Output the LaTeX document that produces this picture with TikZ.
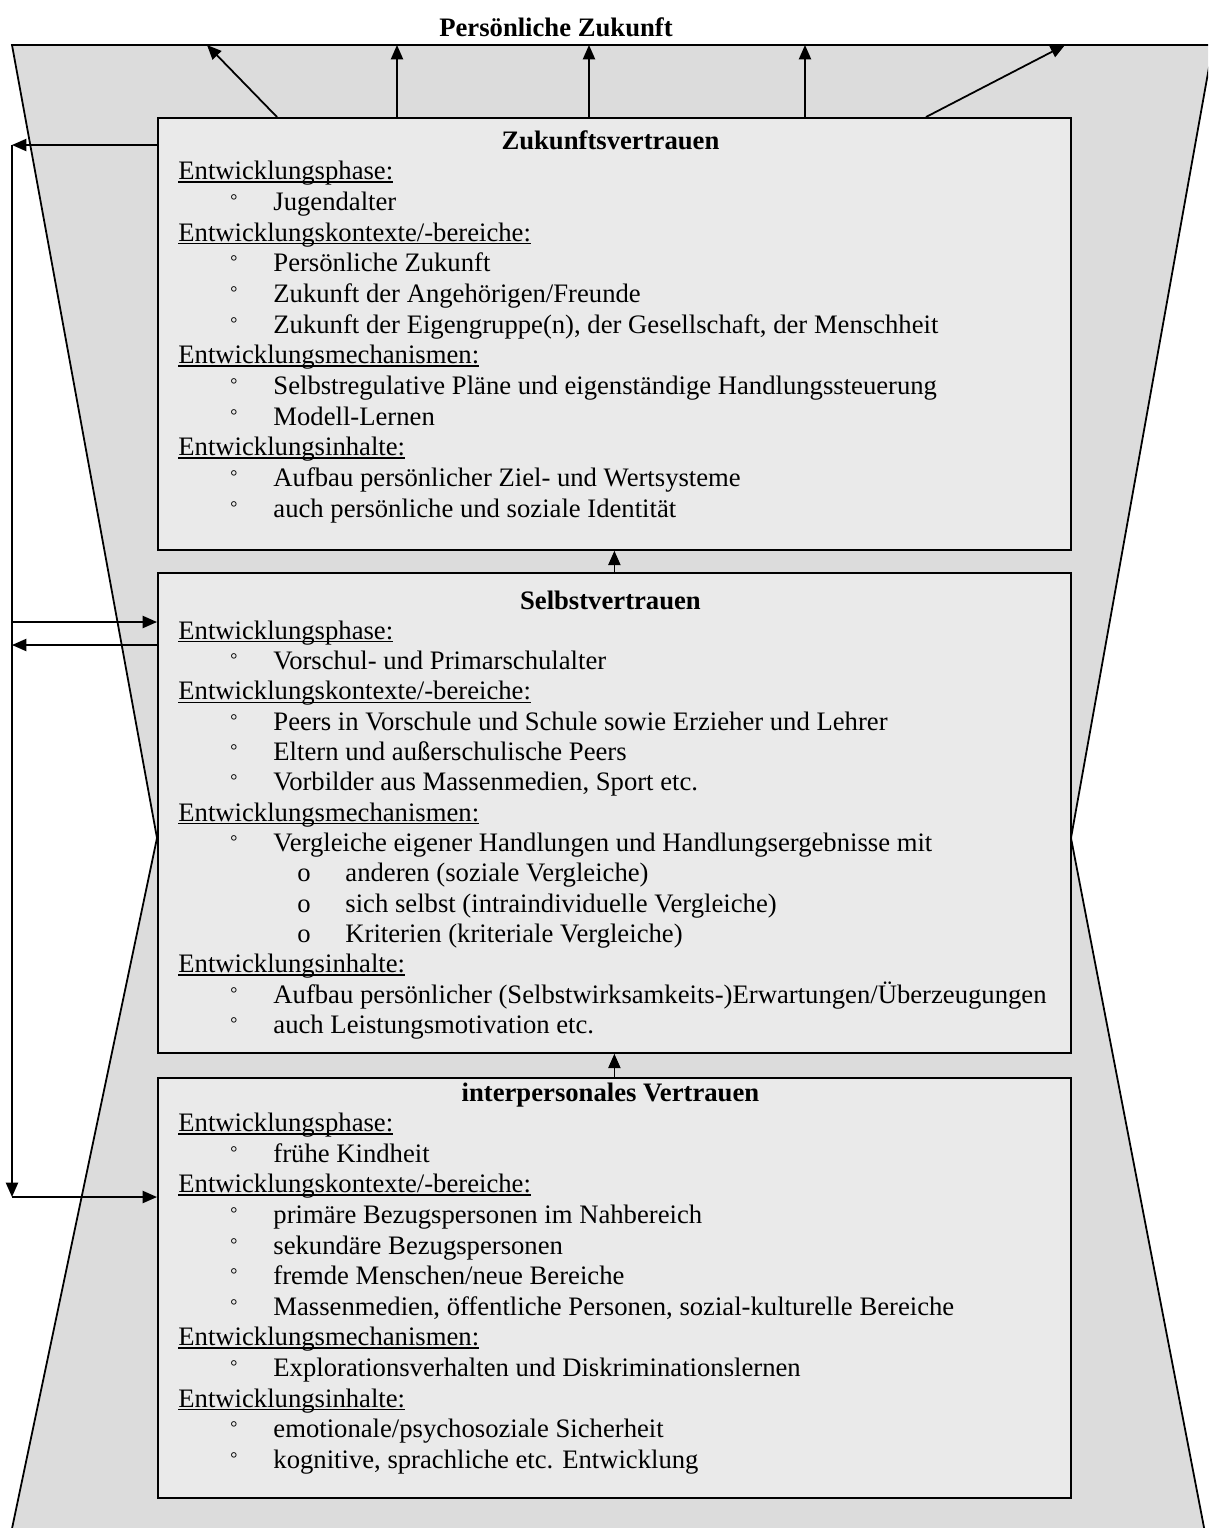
\documentclass[tikz,border=0pt]{standalone}
\usepackage{fontspec}
\setmainfont{Liberation Serif}
\usetikzlibrary{arrows.meta}
\definecolor{huellgrau}{RGB}{220,220,220}
\definecolor{kastengrau}{RGB}{234,234,234}
\newlength{\pxe}\setlength{\pxe}{0.45pt}
\newcommand{\titelzeile}[1]{\makebox[864\pxe]{\textbf{#1}}\par}
\newcommand{\rubrik}[1]{\setbox0\hbox{#1}\leavevmode\rlap{\smash{\rule[-1.3pt]{\wd0}{0.55pt}}}\box0\par}
\newcommand{\kringel}{\raisebox{1.8pt}{\fontsize{8pt}{8pt}\selectfont °}}
\newcommand{\punkt}[1]{\hspace*{52\pxe}\makebox[43\pxe][l]{\kringel}#1\par}
\newcommand{\unterpunkt}[1]{\hspace*{119\pxe}\makebox[48\pxe][l]{o}#1\par}

\begin{document}
\begin{tikzpicture}[x=0.45pt,y=-0.45pt,
  huelle/.style={fill=huellgrau,draw=black,line width=0.8pt},
  kasten/.style={draw=black,fill=kastengrau,line width=0.8pt,inner sep=0pt,
    minimum width=913\pxe,anchor=north west},
  inhalt/.style={inner sep=0pt,anchor=base west,align=left},
  pfeil/.style={-{Triangle[length=6.5pt,width=5.5pt]},line width=0.8pt}]
  \useasboundingbox (0,0) rectangle (1208,1528);
  \clip (0,0) rectangle (1208,1528);
  % hourglass background
  \filldraw[huelle] (12,45) -- (1213,45) -- (1071,838) -- (1218,1600)
    -- (-3,1600) -- (157,838) -- cycle;
  \node[font=\fontsize{12pt}{14pt}\selectfont\bfseries] (titel) at (556,27) {Persönliche Zukunft};
  % the three boxes
  \node[kasten,minimum height=432\pxe] (zv) at (157,117) {};
  \node[kasten,minimum height=480\pxe] (sv) at (157,572) {};
  \node[kasten,minimum height=420\pxe] (iv) at (157,1077) {};
  \node[inhalt] (zvtext) at (178,149) {\parbox[t]{900\pxe}{\fontsize{12pt}{13.8pt}\selectfont
    \titelzeile{Zukunftsvertrauen}
    \rubrik{Entwicklungsphase:}
    \punkt{Jugendalter}
    \rubrik{Entwicklungskontexte/-bereiche:}
    \punkt{Persönliche Zukunft}
    \punkt{Zukunft der Angehörigen/Freunde}
    \punkt{Zukunft der Eigengruppe(n), der Gesellschaft, der Menschheit}
    \rubrik{Entwicklungsmechanismen:}
    \punkt{Selbstregulative Pläne und eigenständige Handlungssteuerung}
    \punkt{Modell-Lernen}
    \rubrik{Entwicklungsinhalte:}
    \punkt{Aufbau persönlicher Ziel- und Wertsysteme}
    \punkt{auch persönliche und soziale Identität}}};
  \node[inhalt] (svtext) at (178,609) {\parbox[t]{900\pxe}{\fontsize{12pt}{13.64pt}\selectfont
    \titelzeile{Selbstvertrauen}
    \rubrik{Entwicklungsphase:}
    \punkt{Vorschul- und Primarschulalter}
    \rubrik{Entwicklungskontexte/-bereiche:}
    \punkt{Peers in Vorschule und Schule sowie Erzieher und Lehrer}
    \punkt{Eltern und außerschulische Peers}
    \punkt{Vorbilder aus Massenmedien, Sport etc.}
    \rubrik{Entwicklungsmechanismen:}
    \punkt{Vergleiche eigener Handlungen und Handlungsergebnisse mit}
    \unterpunkt{anderen (soziale Vergleiche)}
    \unterpunkt{sich selbst (intraindividuelle Vergleiche)}
    \unterpunkt{Kriterien (kriteriale Vergleiche)}
    \rubrik{Entwicklungsinhalte:}
    \punkt{Aufbau persönlicher (Selbstwirksamkeits-)Erwartungen/Überzeugungen}
    \punkt{auch Leistungsmotivation etc.}}};
  \node[inhalt] (ivtext) at (178,1101) {\parbox[t]{900\pxe}{\fontsize{12pt}{13.77pt}\selectfont
    \titelzeile{interpersonales Vertrauen}
    \rubrik{Entwicklungsphase:}
    \punkt{frühe Kindheit}
    \rubrik{Entwicklungskontexte/-bereiche:}
    \punkt{primäre Bezugspersonen im Nahbereich}
    \punkt{sekundäre Bezugspersonen}
    \punkt{fremde Menschen/neue Bereiche}
    \punkt{Massenmedien, öffentliche Personen, sozial-kulturelle Bereiche}
    \rubrik{Entwicklungsmechanismen:}
    \punkt{Explorationsverhalten und Diskriminationslernen}
    \rubrik{Entwicklungsinhalte:}
    \punkt{emotionale/psychosoziale Sicherheit}
    \punkt{kognitive, sprachliche etc. Entwicklung}}};
  % arrows between the boxes
  \draw[pfeil] (sv.north) -- (zv.south);
  \draw[pfeil] (iv.north) -- (sv.south);
  % arrows to the future
  \coordinate (s1) at (277,117);
  \coordinate (s5) at (926,117);
  \coordinate (t1) at (207,45);
  \coordinate (t2) at (397,45);
  \coordinate (t3) at (589,45);
  \coordinate (t4) at (805,45);
  \coordinate (t5) at (1065,45);
  \draw[pfeil] (s1) -- (t1);
  \foreach \t in {t2,t3,t4}
    \draw[pfeil] (\t |- zv.north) -- (\t);
  \draw[pfeil] (s5) -- (t5);
  % feedback on the left
  \coordinate (l1) at (12,145);
  \coordinate (l2a) at (12,622);
  \coordinate (l2b) at (12,645);
  \coordinate (l3) at (12,1197);
  \draw[pfeil] (zv.west |- l1) -- (l1);
  \draw[pfeil] (l1) -- (l3);
  \draw[pfeil] (l3) -- (iv.west |- l3);
  \draw[pfeil] (l2a) -- (sv.west |- l2a);
  \draw[pfeil] (sv.west |- l2b) -- (l2b);
\end{tikzpicture}
\end{document}
